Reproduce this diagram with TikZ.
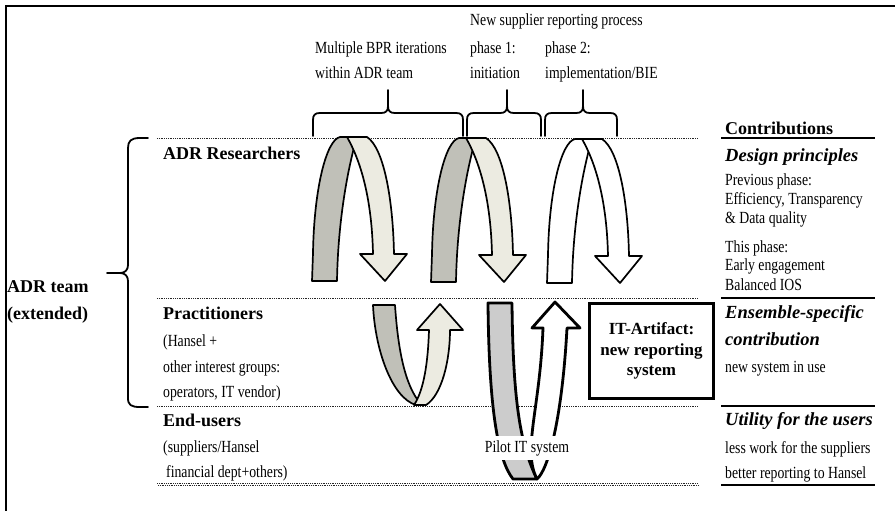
\documentclass[tikz,border=0pt]{standalone}
\usepackage{fontspec}
\setmainfont{Liberation Serif}
\newfontfamily\narrowserif{Liberation Serif}[FakeStretch=0.81]
\definecolor{backgray}{HTML}{C0C0B8}
\definecolor{frontcream}{HTML}{ECEBE1}
\definecolor{pilotgray}{HTML}{CCCCCC}

% brace opening downwards, tip pointing up: left x, tip x, right x
\newcommand\upbrace[3]{%
  \draw[bracepen] (#1,136) -- (#1,120) .. controls (#1,115) and ({#1+2},113) .. ({#1+7},113)
    -- ({#2-7},113) .. controls ({#2-2},113) and (#2,111) .. (#2,106) -- (#2,90)
    (#2,106) .. controls (#2,111) and ({#2+2},113) .. ({#2+7},113)
    -- ({#3-7},113) .. controls ({#3-2},113) and (#3,115) .. (#3,120) -- (#3,136);}

\tikzset{
  txt/.style={font=\narrowserif\fontsize{17}{20}\selectfont, anchor=base west, inner sep=0pt},
  bhead/.style={font=\bfseries\fontsize{18}{21}\selectfont, anchor=base west, inner sep=0pt},
  bihead/.style={font=\bfseries\itshape\fontsize{18.5}{22}\selectfont, anchor=base west, inner sep=0pt},
  dotrule/.style={draw=black!85, line width=0.9pt, dash pattern=on 0.9pt off 0.9pt},
  rule/.style={draw=black, line width=2.4pt},
  bracepen/.style={draw=black, line width=1.8pt, line join=round, line cap=round},
  band/.style={draw=black, line width=1.7pt, line join=round},
  backband/.style={band, fill=backgray},
  frontband/.style={band, fill=frontcream},
  pilotband/.style={draw=black, line width=2.8pt, line join=round, fill=pilotgray},
  pilotarrow/.style={draw=black, line width=2.8pt, line join=round, fill=white},
  % ribbon arrow that rises, turns over and points down
  turndown/.pic={
    \path[backband] (0,144) -- (1,116) .. controls (2,53) and (14,3) .. (28,0) -- (45,0)
      .. controls (36,30) and (26,83) .. (25,144) -- cycle;
    \path[frontband] (35,0) -- (55,0) .. controls (72,11) and (81,63) .. (82,117) -- (95,117)
      -- (73,144) -- (48,117) -- (61,117) .. controls (60,68) and (51,28) .. (35,0) -- cycle;
  },
}

\begin{document}
\begin{tikzpicture}[x=1pt,y=-1pt]
\useasboundingbox (0,0) rectangle (895,511);

% frame
\draw[line width=2pt] (6,511) -- (6,6) -- (895,6);

% group separators
\draw[dotrule] (157,138) -- (698,138);
\draw[dotrule] (157,298) -- (698,298);
\draw[dotrule] (157,406) -- (698,406);
\draw[dotrule] (157,483.4) -- (698,483.4);
\draw[dotrule, dash phase=0.9pt] (157,485.2) -- (698,485.2);

% contribution rules
\draw[rule] (721,138) -- (875,138);
\draw[rule] (721,298) -- (875,298);
\draw[rule] (721,406) -- (875,406);
\draw[rule] (721,485) -- (875,485);

% top labels
\node[txt] (newproc) at (470,26) {New supplier reporting process};
\node[txt] (bprA) at (315,54) {Multiple BPR iterations};
\node[txt] (bprB) at (315,78) {within ADR team};
\node[txt] (phaseoneA) at (470,54) {phase 1:};
\node[txt] (phaseoneB) at (470,78) {initiation};
\node[txt] (phasetwoA) at (545,54) {phase 2:};
\node[txt] (phasetwoB) at (545,78) {implementation/BIE};

% braces over the iterations
\upbrace{313}{388}{463}
\upbrace{467}{507}{541}
\upbrace{545}{583}{617}

% team brace
\draw[bracepen] (148,138) -- (140,138) .. controls (131,138) and (128,141) .. (128,148)
  -- (128,265) .. controls (128,270) and (125,273) .. (120,273) -- (107,273)
  (120,273) .. controls (125,273) and (128,276) .. (128,281)
  -- (128,398) .. controls (128,405) and (131,407) .. (140,407) -- (148,407);

% left labels
\node[bhead] (teamA) at (7,292) {ADR team};
\node[bhead] (teamB) at (7,319) {(extended)};
\node[bhead] (researchers) at (163,159) {ADR Researchers};
\node[bhead] (practitioners) at (163,319) {Practitioners};
\node[txt] (pracA) at (163,346) {(Hansel +};
\node[txt] (pracB) at (163,372) {other interest groups:};
\node[txt] (pracC) at (163,397) {operators, IT vendor)};
\node[bhead] (endusers) at (163,426) {End-users};
\node[txt] (endA) at (163,452) {(suppliers/Hansel};
\node[txt] (endB) at (166,477) {financial dept+others)};

% right column
\node[bhead] (contributions) at (725,135) {Contributions};
\node[bihead] (design) at (725,161) {Design principles};
\node[txt] (dA) at (725,185) {Previous phase:};
\node[txt] (dB) at (725,204) {Efficiency, Transparency};
\node[txt] (dC) at (725,223) {\& Data quality};
\node[txt] (dD) at (725,252) {This phase:};
\node[txt] (dE) at (725,270) {Early engagement};
\node[txt] (dF) at (725,290) {Balanced IOS};
\node[bihead] (ensembleA) at (725,318) {Ensemble-specific};
\node[bihead] (ensembleB) at (725,345) {contribution};
\node[txt] (eA) at (725,372) {new system in use};
\node[bihead] (utility) at (725,425) {Utility for the users};
\node[txt] (uA) at (725,453) {less work for the suppliers};
\node[txt] (uB) at (725,478) {better reporting to Hansel};

% iteration arrows among the researchers
\pic (iterA) at (312,137) {turndown};
\pic (iterB) at (431,138) {turndown};
\pic[backband/.style={band, fill=white}, frontband/.style={band, fill=white}] (iterC) at (547,139) {turndown};

% return arrow through the practitioners
\path[backband] (373,305) -- (395,305) .. controls (398,350) and (405,385) .. (420,403)
  -- (416,405) .. controls (392,398) and (375,350) .. (373,305) -- cycle;
\path[frontband] (414,405) -- (426,405) .. controls (442,395) and (450,360) .. (450,330)
  -- (463,330) -- (440,304) -- (417,330) -- (429,330)
  .. controls (428,362) and (424,390) .. (414,405) -- cycle;

% pilot system loop down to the end-users
\path[pilotband] (488,303) -- (512,303) .. controls (513,400) and (520,445) .. (537,479)
  -- (513,479) .. controls (498,460) and (489,410) .. (488,303) -- cycle;
\path[pilotarrow] (532,328) -- (543,328) .. controls (540,410) and (522,450) .. (537,479)
  .. controls (548,470) and (562,420) .. (567,328) -- (580,328) -- (555,302) -- cycle;
\node[txt, anchor=base, fill=white, inner xsep=2pt, inner ysep=4pt] (pilot) at (527,452) {Pilot IT system};

% artifact
\node[draw, line width=3pt, minimum width=124pt, minimum height=95pt, inner sep=0pt,
  align=center, font=\bfseries\fontsize{17}{20.5}\selectfont] (artifact) at (651.5,351)
  {IT-Artifact:\\new reporting\\system};

\end{tikzpicture}
\end{document}
